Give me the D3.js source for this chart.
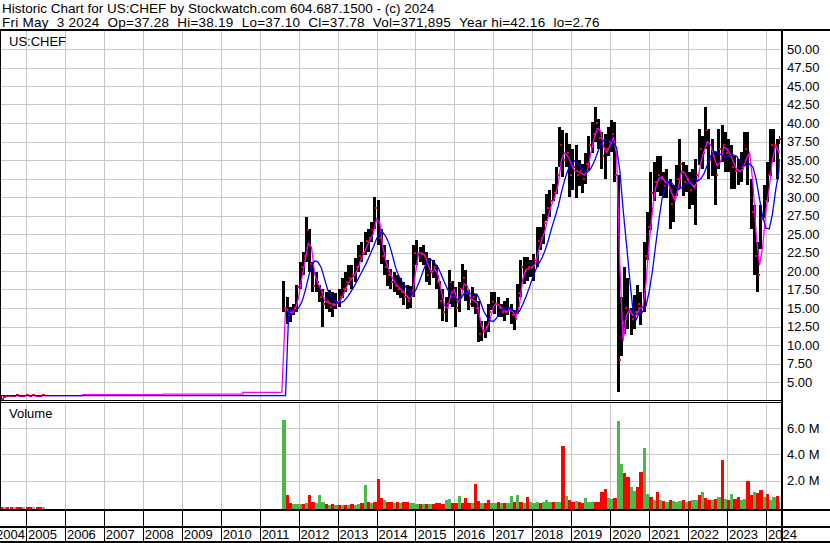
<!DOCTYPE html>
<html>
<head>
<meta charset="utf-8">
<script src="https://cdn.jsdelivr.net/npm/d3@7"></script>
<style>
    html, body { margin: 0; padding: 0; background: #fff; }
    svg { display: block; font-family: "Liberation Sans", Arial, sans-serif; }
</style>
</head>
<body>
<div id="chart"></div>
<script>
// ---- Header text ----
const titleLine = 'Historic Chart for US:CHEF by Stockwatch.com 604.687.1500 - (c) 2024';
const quoteLine = 'Fri May  3 2024  Op=37.28  Hi=38.19  Lo=37.10  Cl=37.78  Vol=371,895  Year hi=42.16  lo=2.76';
const symbolLabel = 'US:CHEF';
const volumeLabel = 'Volume';

// ---- Tick labels ----
const priceTicks = [5, 7.5, 10, 12.5, 15, 17.5, 20, 22.5, 25, 27.5, 30, 32.5, 35, 37.5, 40, 42.5, 45, 47.5, 50];
const volTicks = [2, 4, 6];
const years = [2004, 2005, 2006, 2007, 2008, 2009, 2010, 2011, 2012, 2013, 2014,
               2015, 2016, 2017, 2018, 2019, 2020, 2021, 2022, 2023, 2024];

// ---- Monthly bars, Aug 2011 .. May 2024 ----
const highs = [
    18.6, 16.5, 15.2, 15.6, 18.1,
    21.2, 22.6, 27.3, 25.7, 21.2, 19.9, 18.1, 17.6, 17.2, 17.4, 17.2, 17.0,
    17.6, 19.0, 19.9, 20.8, 20.8, 21.7, 23.5, 23.9, 25.3, 25.7, 26.6, 30.0,
    29.6, 25.7, 23.5, 21.5, 20.3, 19.9, 19.4, 19.0, 18.5, 18.1, 18.0, 23.5,
    24.2, 23.3, 23.5, 22.6, 21.7, 21.5, 20.8, 18.6, 17.6, 16.5, 20.1, 18.7,
    17.8, 18.5, 20.9, 20.1, 17.4, 17.8, 16.9, 16.0, 13.3, 13.3, 15.6, 17.2,
    17.2, 16.5, 15.6, 16.0, 16.3, 15.6, 14.7, 18.3, 21.5, 21.9, 21.9, 21.5,
    22.3, 25.9, 25.9, 27.7, 30.4, 30.9, 31.8, 34.1, 39.5, 39.0, 38.6, 37.2,
    36.5, 37.0, 35.0, 34.5, 36.0, 38.3, 40.2, 42.2, 40.6, 38.8, 38.5, 39.5,
    40.4, 40.1, 33.0, 16.5, 20.5, 19.0, 15.0, 16.7, 18.1, 17.2, 23.9, 28.0,
    33.4, 34.7, 35.6, 35.6, 33.4, 33.8, 32.5, 31.6, 34.3, 37.9, 34.7, 34.3,
    33.4, 33.8, 35.2, 39.2, 38.3, 42.2, 39.2, 37.9, 36.1, 39.2, 39.7, 38.8,
    37.9, 37.0, 35.6, 35.2, 36.1, 38.8, 38.8, 32.5, 28.9, 23.9, 28.9, 31.6,
    34.7, 39.2, 39.2, 37.9, 38.19
];
const lows = [
    14.5, 12.9, 13.1, 14.0, 14.5,
    17.6, 19.4, 21.2, 19.9, 17.2, 17.2, 15.8, 12.5, 14.9, 14.5, 13.8, 14.9,
    15.2, 16.3, 17.2, 18.1, 17.6, 18.5, 19.9, 21.2, 22.1, 22.6, 23.9, 25.7,
    23.5, 21.0, 19.4, 18.0, 17.6, 17.2, 16.7, 16.3, 15.4, 14.9, 15.0, 16.5,
    20.8, 21.2, 20.8, 18.5, 18.1, 19.0, 17.5, 14.9, 13.2, 13.1, 15.5, 15.1,
    12.4, 14.5, 17.4, 16.0, 14.7, 15.1, 14.2, 10.4, 10.6, 10.9, 11.7, 14.7,
    14.2, 13.8, 13.8, 13.3, 14.0, 12.9, 12.0, 14.2, 16.5, 18.3, 18.7, 19.2,
    18.7, 20.5, 22.8, 23.7, 26.8, 27.3, 29.5, 30.4, 34.1, 32.7, 34.1, 30.0,
    30.9, 29.8, 31.5, 30.5, 31.8, 33.5, 36.0, 37.5, 36.5, 33.8, 32.5, 35.5,
    36.1, 32.0, 3.6, 8.5, 11.5, 12.2, 11.3, 12.2, 14.0, 12.7, 14.5, 21.5,
    25.5, 29.5, 30.7, 30.2, 29.8, 29.8, 25.7, 26.6, 30.2, 31.1, 30.2, 30.7,
    28.4, 28.9, 26.2, 34.3, 33.8, 36.5, 32.5, 32.9, 28.9, 33.8, 34.7, 33.4,
    33.4, 31.1, 31.1, 31.6, 32.0, 34.3, 31.6, 25.7, 19.4, 17.2, 23.0, 27.1,
    29.3, 32.9, 34.7, 32.5, 37.10
];
const closes = [
    15.0, 14.0, 14.6, 15.0, 17.8,
    20.5, 22.0, 25.5, 21.0, 18.0, 18.5, 16.5, 15.5, 16.0, 15.2, 15.5, 15.8,
    16.5, 17.5, 18.5, 19.0, 19.5, 20.5, 22.0, 22.5, 24.0, 24.5, 25.5, 28.5,
    24.5, 22.0, 20.5, 19.5, 18.5, 18.0, 17.5, 17.2, 16.5, 16.0, 17.0, 22.5,
    22.5, 22.3, 22.0, 19.5, 20.0, 20.5, 18.5, 16.0, 14.5, 15.5, 18.5, 16.5,
    15.0, 17.5, 19.0, 17.0, 15.5, 16.5, 15.0, 11.5, 12.0, 12.5, 14.5, 15.8,
    15.5, 15.0, 14.5, 14.5, 15.0, 14.0, 13.5, 17.0, 20.5, 20.0, 20.5, 20.5,
    21.5, 24.0, 24.5, 26.5, 28.5, 29.5, 30.5, 33.0, 37.0, 35.0, 36.0, 33.0,
    34.0, 33.0, 33.5, 32.5, 34.5, 37.0, 38.5, 40.0, 38.0, 35.5, 36.5, 37.5,
    38.5, 33.0, 8.0, 13.0, 15.0, 14.5, 13.5, 14.5, 15.5, 14.5, 22.0, 26.0,
    30.5, 32.0, 33.0, 32.5, 31.5, 32.0, 29.0, 30.0, 32.5, 34.5, 32.0, 32.5,
    31.0, 31.5, 33.0, 36.5, 36.0, 39.0, 35.0, 35.5, 33.0, 36.5, 37.0, 36.0,
    35.5, 34.0, 33.5, 33.5, 34.0, 36.5, 35.5, 28.0, 22.0, 19.5, 27.0, 29.5,
    33.0, 37.0, 37.0, 35.0, 37.78
];
// volume in millions (visible peak per month)
const volumes = [
    6.6, 0.9, 0.3, 0.25, 0.2,
    0.2, 0.25, 0.3, 0.9, 0.4, 0.3, 0.9, 0.4, 0.2, 0.15, 0.2, 0.15,
    0.12, 0.12, 0.15, 0.12, 0.2, 0.15, 0.2, 0.3, 1.7, 0.4, 0.3, 0.35,
    2.15, 0.7, 0.55, 0.4, 0.35, 0.3, 0.4, 0.3, 0.35, 0.35, 0.3, 0.3,
    0.25, 0.2, 0.25, 0.2, 0.25, 0.2, 0.3, 0.3, 0.25, 0.55, 0.6, 0.3,
    0.3, 0.8, 0.3, 0.65, 0.3, 0.3, 1.75, 0.45, 0.3, 0.3, 0.55, 0.3,
    0.3, 0.4, 0.3, 0.3, 0.3, 0.8, 0.4, 0.9, 0.4, 0.3, 0.75, 0.35,
    0.3, 0.35, 0.3, 0.4, 0.5, 0.35, 0.4, 0.4, 0.35, 4.6, 0.8, 0.5,
    0.35, 0.45, 0.35, 0.3, 0.65, 0.4, 0.4, 0.4, 0.4, 1.15, 1.4, 0.65,
    0.6, 0.65, 6.5, 3.3, 2.6, 2.25, 1.5, 1.2, 1.5, 2.65, 4.5, 1.0,
    0.75, 0.55, 1.15, 0.5, 0.45, 0.4, 0.5, 0.45, 0.4, 0.45, 0.5, 0.4,
    0.45, 0.5, 0.55, 0.9, 1.15, 0.65, 0.5, 0.55, 0.6, 0.75, 3.6, 0.6,
    0.55, 1.0, 0.6, 0.75, 0.55, 0.6, 2.0, 0.9, 1.15, 1.1, 1.3, 0.75,
    1.0, 0.55, 0.75, 0.8, 0.37
];
// g = up volume, r = down volume
const volSides = [
    'grrgg',
    'grgrrgggrgrg', 'rgrgrggrgrgr', 'rrgrrgrgrrgg', 'grgrgrrrrggr',
    'rgrrrgrrgrrg', 'grgrggrgrgrg', 'ggrgggrggrgr', 'rgrrgggrrrrg',
    'grggrrggrrgg', 'rgrgrgrgggrg', 'rggrgrrgrgrg', 'rgrrggrrgrrg',
    'rggrg'
].join('');

// ---- Before the 2011 listing: thin trading and flat averages ----
const preTickDates = [2004.36, 2004.42, 2004.5, 2004.58, 2004.66, 2004.75, 2004.83,
                      2004.91, 2005.0, 2005.08, 2005.16, 2005.25, 2005.33, 2005.42];
const preTickValues = [2.76, 2.95, 3.05, 3.15, 3.1, 3.2, 3.1, 3.15, 3.2, 3.1, 3.2, 3.15, 3.1, 3.2];
const preMagenta = [[2004.33, 2006.46, 3.15], [2006.46, 2008.52, 3.28],
                    [2008.52, 2010.57, 3.37], [2010.57, 2011.57, 3.6]];
const preBlue = [[2004.33, 2011.57, 3.15]];

// ---- Layout ----
const W = 830, H = 543;
const plotRight = 781;
const priceTop = 31, priceBottom = 400;
const volTop = 403, volBottom = 509;

const lastDay = new Date(2024, 4, 4);
const ipoDate = new Date(2011, 6, 28);

function yearToDate(t) {
    const y = Math.floor(t);
    const a = new Date(y, 0, 1), b = new Date(y + 1, 0, 1);
    return new Date(+a + (t - y) * (b - a));
}

const x = d3.scaleTime()
    .domain([new Date(2005, 0, 1), new Date(2024, 0, 1)])
    .range([26, 766]);
const yP = d3.scaleLinear().domain([5, 50]).range([382, 49]);
const yV = d3.scaleLinear().domain([0, 6]).range([507, 428]);

const months = highs.map((h, i) => {
    const start = new Date(2011, 7 + i, 1);
    let end = new Date(2011, 8 + i, 1);
    if (end > lastDay) end = lastDay;
    return { start, end, high: h, low: lows[i], close: closes[i], vol: volumes[i], side: volSides[i] };
});

// moving averages from the closes: short (magenta) and about 100 days (blue)
const shortMA = months.map((m, i) => i === 0 ? m.close : (months[i - 1].close + m.close) / 2);
const longMA = shortMA.map((v, i) => {
    if (i === 0) return preBlue[preBlue.length - 1][2];
    return d3.mean(shortMA.slice(Math.max(0, i - 4), i + 1));
});

const svg = d3.select('#chart').append('svg')
    .attr('width', W)
    .attr('height', H);

svg.append('rect').attr('width', W).attr('height', H).attr('fill', '#fff');

// Header
const keepSpaces = s => s.replace(/  /g, ' \u00a0');
svg.append('text').attr('x', 2).attr('y', 13)
    .style('font-size', '13.5px').attr('fill', '#000')
    .text(titleLine);
svg.append('text').attr('x', 2).attr('y', 27)
    .style('font-size', '13.5px').style('letter-spacing', '0.25px').attr('fill', '#000')
    .text(keepSpaces(quoteLine));

// Grid
const grid = svg.append('g').attr('stroke', '#c8c8c8').attr('stroke-width', 1);
priceTicks.forEach(v => {
    const yy = Math.round(yP(v)) + 0.5;
    grid.append('line').attr('x1', 0).attr('x2', plotRight).attr('y1', yy).attr('y2', yy);
});
volTicks.forEach(v => {
    const yy = Math.round(yV(v)) + 0.5;
    grid.append('line').attr('x1', 0).attr('x2', plotRight).attr('y1', yy).attr('y2', yy);
});
years.filter(y => y > 2004).forEach(y => {
    const xx = Math.round(x(new Date(y, 0, 1))) + 0.5;
    grid.append('line').attr('x1', xx).attr('x2', xx).attr('y1', priceTop).attr('y2', priceBottom);
    grid.append('line').attr('x1', xx).attr('x2', xx).attr('y1', volTop).attr('y2', volBottom);
});

// Clips
svg.append('clipPath').attr('id', 'clipPrice')
    .append('rect').attr('x', 0).attr('y', priceTop).attr('width', plotRight).attr('height', priceBottom - priceTop);
svg.append('clipPath').attr('id', 'clipVol')
    .append('rect').attr('x', 0).attr('y', volTop).attr('width', plotRight).attr('height', volBottom - volTop);

const price = svg.append('g').attr('clip-path', 'url(#clipPrice)');

// pre-listing trades
price.append('rect')
    .attr('x', Math.round(x(yearToDate(preTickDates[0]))))
    .attr('y', yP(3.2)).attr('width', 1).attr('height', yP(preTickValues[0]) - yP(3.2))
    .attr('fill', '#000');
price.selectAll('rect.pre')
    .data(preTickDates)
    .enter().append('rect')
    .attr('class', 'pre')
    .attr('x', d => Math.round(x(yearToDate(d))))
    .attr('y', (d, i) => Math.round(yP(preTickValues[i])) - 1)
    .attr('width', 3).attr('height', 2)
    .attr('fill', '#ff0000');

// price bars, one per month; a 4px month loses a pixel so the mass is not a solid block
const barX = d => Math.round(x(d.start));
const fullW = d => Math.max(1, Math.round(x(d.end)) - Math.round(x(d.start)));
const barW = d => fullW(d) > 3 ? fullW(d) - 1 : fullW(d);
price.selectAll('rect.bar')
    .data(months)
    .enter().append('rect')
    .attr('class', 'bar')
    .attr('x', barX)
    .attr('width', barW)
    .attr('y', d => Math.round(yP(d.high)))
    .attr('height', d => Math.max(1, Math.round(yP(d.low)) - Math.round(yP(d.high))))
    .attr('fill', '#000');

// close ticks
price.selectAll('rect.cl')
    .data(months)
    .enter().append('rect')
    .attr('class', 'cl')
    .attr('x', d => barX(d) + barW(d) - 1)
    .attr('y', d => Math.round(yP(d.close)) - 1)
    .attr('width', 2).attr('height', 2)
    .attr('fill', '#ff0000');

const line = d3.line().x(d => x(d[0])).y(d => yP(d[1]));

const magentaPts = [];
preMagenta.forEach(s => {
    magentaPts.push([yearToDate(s[0]), s[2]], [yearToDate(s[1]), s[2]]);
});
magentaPts.push([ipoDate, 3.6]);
months.forEach((m, i) => magentaPts.push([m.end, shortMA[i]]));

const bluePts = [];
preBlue.forEach(s => {
    bluePts.push([yearToDate(s[0]), s[2]], [yearToDate(s[1]), s[2]]);
});
months.forEach((m, i) => bluePts.push([m.end, longMA[i]]));

price.append('path').datum(magentaPts)
    .attr('d', line).attr('fill', 'none')
    .attr('stroke', '#ff00ff').attr('stroke-width', 1.3);
price.append('path').datum(bluePts)
    .attr('d', line).attr('fill', 'none')
    .attr('stroke', '#0000ff').attr('stroke-width', 1.3);

// Volume
const vol = svg.append('g').attr('clip-path', 'url(#clipVol)');
const sideColor = { g: '#4cb84c', r: '#ff0000', x: '#a8a8a8' };
vol.selectAll('rect.pv')
    .data(preTickDates)
    .enter().append('rect')
    .attr('class', 'pv')
    .attr('x', d => Math.round(x(yearToDate(d))))
    .attr('y', volBottom - 2).attr('width', 3).attr('height', 2)
    .attr('fill', (d, i) => i % 3 === 1 ? sideColor.x : sideColor.r);
vol.selectAll('rect.v')
    .data(months)
    .enter().append('rect')
    .attr('class', 'v')
    .attr('x', barX)
    .attr('width', fullW)
    .attr('y', d => Math.round(yV(d.vol)))
    .attr('height', d => volBottom - Math.round(yV(d.vol)))
    .attr('fill', d => sideColor[d.side]);

// Frame lines
const frame = svg.append('g').attr('stroke', '#000').attr('shape-rendering', 'crispEdges');
frame.append('line').attr('x1', 0).attr('x2', W).attr('y1', 30).attr('y2', 30).attr('stroke-width', 2);
frame.append('line').attr('x1', 0).attr('x2', plotRight).attr('y1', 400.5).attr('y2', 400.5);
frame.append('line').attr('x1', 0).attr('x2', plotRight).attr('y1', 402.5).attr('y2', 402.5);
frame.append('line').attr('x1', 0).attr('x2', W).attr('y1', 510).attr('y2', 510).attr('stroke-width', 2);
frame.append('line').attr('x1', 0).attr('x2', W).attr('y1', 526.5).attr('y2', 526.5).attr('stroke-width', 2);
frame.append('line').attr('x1', 0).attr('x2', W).attr('y1', 542).attr('y2', 542).attr('stroke-width', 2);
frame.append('line').attr('x1', 0.5).attr('x2', 0.5).attr('y1', 30).attr('y2', 510);
frame.append('line').attr('x1', plotRight + 1).attr('x2', plotRight + 1).attr('y1', 30).attr('y2', H).attr('stroke-width', 2);
years.filter(y => y > 2004).forEach(y => {
    const xx = Math.round(x(new Date(y, 0, 1))) + 0.5;
    frame.append('line').attr('x1', xx).attr('x2', xx).attr('y1', 510).attr('y2', 542);
});

// Labels
const labels = svg.append('g').style('font-size', '13px').attr('fill', '#000');
labels.append('text').attr('x', 9).attr('y', 46).text(symbolLabel);
labels.append('text').attr('x', 9).attr('y', 418).text(volumeLabel);

priceTicks.forEach(v => {
    labels.append('text').attr('x', 787).attr('y', yP(v) + 4.5).text(d3.format('.2f')(v));
});
volTicks.forEach(v => {
    labels.append('text').attr('x', 787).attr('y', yV(v) + 4.5).text(d3.format('.1f')(v) + ' M');
});
years.forEach(y => {
    const x0 = x(new Date(y, 0, 1));
    const x1 = x(new Date(y + 1, 0, 1));
    const t = labels.append('text').attr('y', 539).text(String(y));
    if (x0 < 0) t.attr('x', x1 - 1).attr('text-anchor', 'end');
    else t.attr('x', x0 + 2);
});
</script>
</body>
</html>
